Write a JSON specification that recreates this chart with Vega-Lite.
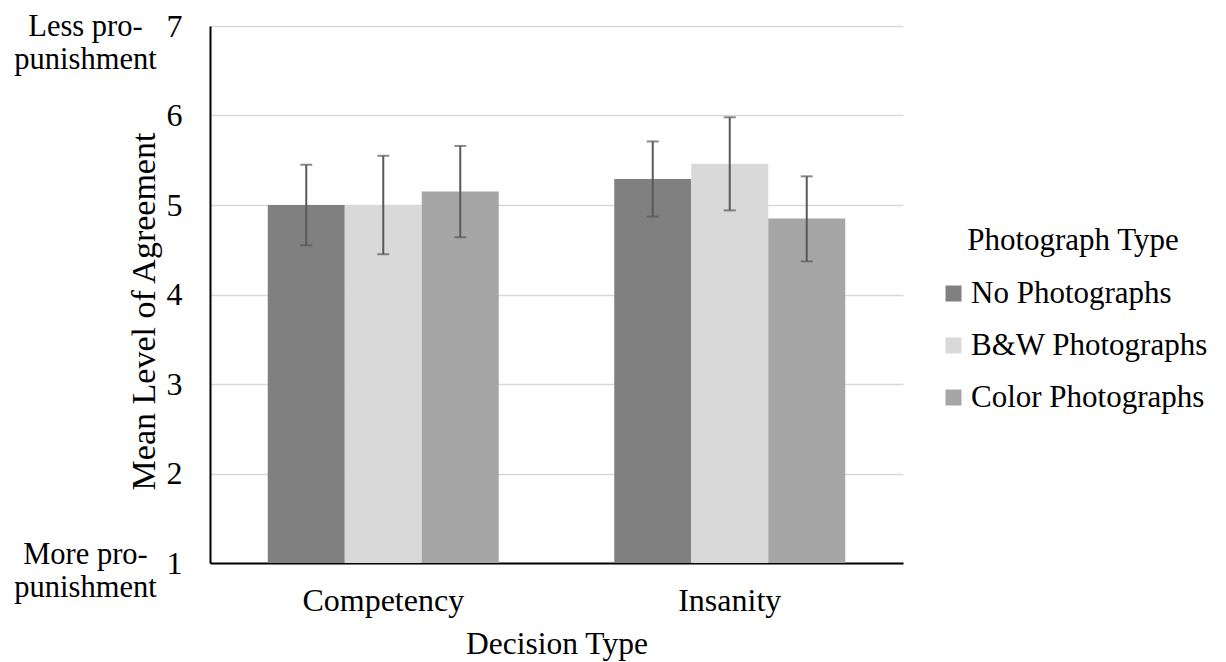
{
  "$schema": "https://vega.github.io/schema/vega-lite/v6.json",
  "width": 693,
  "height": 537,
  "autosize": "none",
  "padding": {"left": 210, "top": 26, "right": 323, "bottom": 99},
  "background": "white",
  "config": {
    "font": "Liberation Serif",
    "view": {"stroke": null},
    "axis": {"labelFont": "Liberation Serif", "titleFont": "Liberation Serif", "labelColor": "#000000", "titleColor": "#000000", "titleFontWeight": "normal"},
    "legend": {"labelFont": "Liberation Serif", "titleFont": "Liberation Serif"}
  },
  "data": {
    "values": [
      {"decision": "Competency", "photo": "No Photographs", "mean": 5.00, "lo": 4.55, "hi": 5.45},
      {"decision": "Competency", "photo": "B&W Photographs", "mean": 5.00, "lo": 4.45, "hi": 5.55},
      {"decision": "Competency", "photo": "Color Photographs", "mean": 5.15, "lo": 4.64, "hi": 5.66},
      {"decision": "Insanity", "photo": "No Photographs", "mean": 5.29, "lo": 4.87, "hi": 5.71},
      {"decision": "Insanity", "photo": "B&W Photographs", "mean": 5.46, "lo": 4.94, "hi": 5.98},
      {"decision": "Insanity", "photo": "Color Photographs", "mean": 4.85, "lo": 4.37, "hi": 5.32}
    ]
  },
  "encoding": {
    "x": {
      "field": "decision",
      "type": "nominal",
      "sort": ["Competency", "Insanity"],
      "scale": {"paddingInner": 0.3333, "paddingOuter": 0.1667},
      "axis": {
        "title": "Decision Type",
        "labelAngle": 0,
        "labelFontSize": 32,
        "labelPadding": 22,
        "titleFontSize": 31.5,
        "titlePadding": 12,
        "domainColor": "#000000",
        "domainWidth": 2,
        "ticks": false,
        "grid": false
      }
    },
    "xOffset": {
      "field": "photo",
      "type": "nominal",
      "sort": ["No Photographs", "B&W Photographs", "Color Photographs"],
      "scale": {"paddingInner": 0, "paddingOuter": 0}
    }
  },
  "layer": [
    {
      "mark": {"type": "bar"},
      "encoding": {
        "y": {
          "field": "mean",
          "type": "quantitative",
          "scale": {"domain": [1, 7], "zero": false, "nice": false},
          "axis": {
            "orient": "left",
            "title": "Mean Level of Agreement",
            "values": [1, 2, 3, 4, 5, 6, 7],
            "grid": true,
            "gridColor": "#d9d9d9",
            "gridWidth": 1.5,
            "domainColor": "#000000",
            "domainWidth": 2,
            "ticks": false,
            "labelFontSize": 32,
            "labelPadding": 28,
            "titleFontSize": 34,
            "titlePadding": 5,
            "titleY": 285
          }
        },
        "y2": {"datum": 1},
        "color": {
          "field": "photo",
          "type": "nominal",
          "scale": {
            "domain": ["No Photographs", "B&W Photographs", "Color Photographs"],
            "range": ["#808080", "#d9d9d9", "#a6a6a6"]
          },
          "legend": {
            "orient": "none",
            "legendX": 728,
            "legendY": 200,
            "title": "Photograph Type",
            "titleFontSize": 31,
            "titleFontWeight": "normal",
            "titleColor": "#000000",
            "titleAnchor": "middle",
            "titlePadding": 21,
            "titleLimit": 0,
            "labelFontSize": 31,
            "labelColor": "#000000",
            "labelLimit": 0,
            "symbolType": "square",
            "symbolSize": 256,
            "symbolStrokeWidth": 0,
            "rowPadding": 20,
            "labelOffset": 2,
            "padding": 0
          }
        }
      }
    },
    {
      "mark": {"type": "rule", "color": "#595959", "strokeWidth": 2},
      "encoding": {
        "y": {
          "field": "lo",
          "type": "quantitative",
          "axis": {
            "orient": "left",
            "title": null,
            "values": [1, 7],
            "labelExpr": "datum.value == 7 ? ['Less pro-', 'punishment'] : ['More pro-', 'punishment']",
            "grid": false,
            "domain": false,
            "ticks": false,
            "labelAlign": "center",
            "labelPadding": 125,
            "labelBaseline": "alphabetic",
            "labelOffset": {"condition": {"test": "datum.value == 7", "value": 9}, "value": 0},
            "labelLineHeight": 33,
            "labelFontSize": 30.5
          }
        },
        "y2": {"field": "hi"}
      }
    },
    {
      "transform": [{"fold": ["lo", "hi"], "as": ["bound", "val"]}],
      "mark": {"type": "tick", "color": "#595959", "thickness": 2, "size": 12},
      "encoding": {
        "y": {"field": "val", "type": "quantitative", "axis": null}
      }
    }
  ],
  "resolve": {"axis": {"y": "independent"}}
}
